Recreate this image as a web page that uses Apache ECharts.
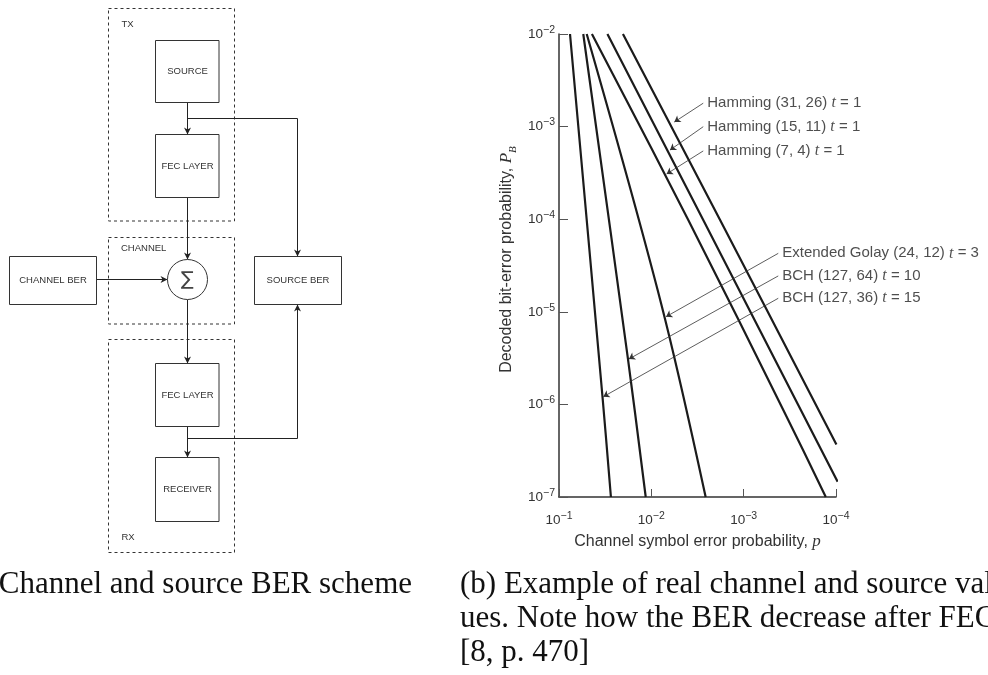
<!DOCTYPE html>
<html>
<head>
<meta charset="utf-8">
<script src="https://cdn.jsdelivr.net/npm/echarts@6/dist/echarts.min.js"></script>
<style>
  html, body { margin: 0; padding: 0; background: #fff; }
  #main { width: 988px; height: 675px; }
</style>
</head>
<body>
<div id="main"></div>
<script>
// Decoded bit-error probability P_B against channel symbol error probability p.
// Each curve is a list of [p, P_B] points.
const codeNames = ['Hamming (31, 26)', 'Hamming (15, 11)', 'Hamming (7, 4)',
                   'Extended Golay (24, 12)', 'BCH (127, 64)', 'BCH (127, 36)'];
const codeT = [1, 1, 1, 3, 10, 15];

const hamming3126 = [[0.0203, 1e-2], [1.80e-3, 9.8e-5], [9.9e-5, 3.7e-7]];
const hamming1511 = [[0.0299, 1e-2], [2.74e-3, 9.8e-5], [9.6e-5, 1.46e-7]];
const hamming74   = [[0.0440, 1e-2], [3.98e-3, 9.8e-5], [3.29e-4, 6.8e-7], [1.29e-4, 1e-7]];
const golay2412   = [[0.0501, 1e-2], [7.85e-3, 1.24e-5], [2.58e-3, 1e-7]];
const bch12764    = [[0.0546, 1e-2], [0.0179, 3.09e-6], [0.0115, 1e-7]];
const bch12736    = [[0.0760, 1e-2], [0.0338, 1.21e-6], [0.0274, 1e-7]];
const curves = [hamming3126, hamming1511, hamming74, golay2412, bch12764, bch12736];

// Leader arrows: a point beside each label and the point on its curve.
const labelAnchors = [[2.74e-3, 1.79e-3], [2.74e-3, 9.98e-4], [2.74e-3, 5.46e-4],
                      [4.22e-4, 4.28e-5], [4.22e-4, 2.44e-5], [4.22e-4, 1.40e-5]];
const arrowTips = [[5.64e-3, 1.12e-3], [6.28e-3, 5.58e-4], [6.83e-3, 3.08e-4],
                   [6.93e-3, 8.85e-6], [0.0175, 3.09e-6], [0.0331, 1.21e-6]];

// Axis ranges (decades)
const xRange = [1e-4, 1e-1];
const yRange = [1e-7, 1e-2];

const SANS = '"Liberation Sans", Arial, Helvetica, sans-serif';
const SERIF = '"Liberation Serif", "Times New Roman", serif';

function powLabel(v) {
  const n = Math.round(Math.log10(v));
  return '{b|10}{e|' + (n < 0 ? '\u2212' + (-n) : n) + '}';
}
const powRich = {
  b: { fontSize: 13.5, fontFamily: SANS, color: '#333', lineHeight: 19 },
  e: { fontSize: 10.5, fontFamily: SANS, color: '#333', lineHeight: 11, verticalAlign: 'top' }
};

// ---------- block diagram (left panel) ----------
const graphics = [];
const STROKE = '#333';
function rect(x, y, w, h, dashed) {
  graphics.push({
    type: 'rect', shape: { x: x, y: y, width: w, height: h },
    style: { fill: dashed ? null : '#fff', stroke: STROKE, lineWidth: 1, lineDash: dashed ? [3, 3] : null },
    z: dashed ? 1 : 3
  });
}
function text(x, y, s, align) {
  graphics.push({
    type: 'text', x: x, y: y, z: 5,
    style: { text: s, font: '9.5px ' + SANS, fill: '#333', align: align || 'center', verticalAlign: 'middle' }
  });
}
function wire(points) {
  graphics.push({ type: 'polyline', shape: { points: points }, style: { stroke: '#222', lineWidth: 1, fill: null }, z: 2 });
}
function head(x, y, dir) {
  // filled arrow head with its tip at (x, y)
  const L = 7, W = 3.5, N = 2;
  let pts;
  if (dir === 'down') pts = [[x, y], [x - W, y - L], [x, y - L + N], [x + W, y - L]];
  if (dir === 'up') pts = [[x, y], [x - W, y + L], [x, y + L - N], [x + W, y + L]];
  if (dir === 'right') pts = [[x, y], [x - L, y - W], [x - L + N, y], [x - L, y + W]];
  graphics.push({ type: 'polygon', shape: { points: pts }, style: { fill: '#222' }, z: 4 });
}

const cx = 187.5;
// group frames
rect(108.5, 8.5, 126, 212.5, true);
rect(108.5, 237.5, 126, 86.5, true);
rect(108.5, 339.5, 126, 213, true);
text(121.5, 24, 'TX', 'left');
text(121, 248.5, 'CHANNEL', 'left');
text(121.5, 537, 'RX', 'left');
// blocks
rect(155.5, 40.5, 63.5, 62, false);   text(cx, 71.5, 'SOURCE');
rect(155.5, 134.5, 63.5, 63, false);  text(cx, 166, 'FEC LAYER');
rect(9.5, 256.5, 87, 48, false);      text(53, 280.5, 'CHANNEL BER');
rect(254.5, 256.5, 87, 48, false);    text(298, 280.5, 'SOURCE BER');
rect(155.5, 363.5, 63.5, 63, false);  text(cx, 395, 'FEC LAYER');
rect(155.5, 457.5, 63.5, 64, false);  text(cx, 489.5, 'RECEIVER');
// adder
graphics.push({ type: 'circle', shape: { cx: cx, cy: 279.5, r: 20 }, style: { fill: '#fff', stroke: STROKE, lineWidth: 1 }, z: 3 });
graphics.push({ type: 'text', x: cx, y: 280, z: 5,
  style: { text: '\u2211', font: '19px "DejaVu Sans", ' + SANS, fill: '#444', align: 'center', verticalAlign: 'middle' } });
// connections
wire([[cx, 102.5], [cx, 134.5]]);         head(cx, 134.5, 'down');
wire([[cx, 118.5], [297.5, 118.5], [297.5, 256.5]]); head(297.5, 256.5, 'down');
wire([[cx, 197.5], [cx, 259.5]]);         head(cx, 259.5, 'down');
wire([[96.5, 279.5], [167.5, 279.5]]);    head(167.5, 279.5, 'right');
wire([[cx, 299.5], [cx, 363.5]]);         head(cx, 363.5, 'down');
wire([[cx, 426.5], [cx, 457.5]]);         head(cx, 457.5, 'down');
wire([[cx, 438.5], [297.5, 438.5], [297.5, 304.5]]); head(297.5, 304.5, 'up');

// ---------- captions ----------
const captionFont = '31px ' + SERIF;
graphics.push({ type: 'text', x: 412, y: 585, z: 5,
  style: { text: '(a) Channel and source BER scheme', font: captionFont, fill: '#111', align: 'right', verticalAlign: 'middle' } });
const captionLines = ['(b) Example of real channel and source val-',
                      'ues. Note how the BER decrease after FEC',
                      '[8, p. 470]'];
captionLines.forEach(function (s, i) {
  graphics.push({ type: 'text', x: 460, y: 585 + i * 34, z: 5,
    style: { text: s, font: captionFont, fill: '#111', align: 'left', verticalAlign: 'middle' } });
});

// ---------- chart (right panel) ----------
const lineSeries = curves.map(function (pts, i) {
  return {
    name: codeNames[i], type: 'line', data: pts, showSymbol: false, silent: true,
    smooth: 0.35,
    lineStyle: { color: '#1b1b1b', width: 2.2 }, z: 3
  };
});

const labelSeries = {
  type: 'scatter', silent: true, symbolSize: 0, z: 4,
  data: labelAnchors.map(function (p, i) { return { value: p, name: codeNames[i] }; }),
  label: {
    show: true, position: 'right', distance: 4,
    formatter: function (d) {
      return '{n|' + codeNames[d.dataIndex] + ' }{i|t}{n| = ' + codeT[d.dataIndex] + '}';
    },
    rich: {
      n: { fontSize: 15, fontFamily: SANS, color: '#222' },
      i: { fontSize: 16, fontFamily: SERIF, fontStyle: 'italic', color: '#222' }
    }
  },
  markLine: {
    silent: true, animation: false,
    symbol: ['none', 'arrow'], symbolSize: 6,
    label: { show: false },
    lineStyle: { color: '#333', width: 0.8, type: 'solid' },
    data: labelAnchors.map(function (p, i) { return [{ coord: p }, { coord: arrowTips[i] }]; })
  }
};

const option = {
  animation: false,
  backgroundColor: '#fff',
  grid: { left: 559, top: 34, width: 277, height: 463, outerBoundsMode: 'none', containLabel: false },
  xAxis: {
    type: 'log', logBase: 10, min: xRange[0], max: xRange[1], inverse: true,
    axisLine: { lineStyle: { color: '#333', width: 1.5 } },
    axisTick: { inside: true, length: 8, lineStyle: { color: '#555', width: 1 } },
    splitLine: { show: false },
    axisLabel: { margin: 14, formatter: powLabel, rich: powRich },
    name: 'Channel symbol error probability, {i|p}',
    nameLocation: 'middle', nameGap: 36,
    nameTextStyle: { fontSize: 16, fontFamily: SANS, color: '#333',
      rich: { i: { fontSize: 17, fontFamily: SERIF, fontStyle: 'italic', color: '#333' } } }
  },
  yAxis: {
    type: 'log', logBase: 10, min: yRange[0], max: yRange[1],
    axisLine: { lineStyle: { color: '#333', width: 1.5 } },
    axisTick: { inside: true, length: 9, lineStyle: { color: '#555', width: 1 } },
    splitLine: { show: false },
    axisLabel: { margin: 4, formatter: powLabel, rich: powRich },
    name: 'Decoded bit-error probability, {i|P}{s|B}',
    nameLocation: 'middle', nameGap: 40, nameRotate: 90,
    nameTextStyle: { fontSize: 16, fontFamily: SANS, color: '#333', padding: [0, 0, 0, 12],
      rich: { i: { fontSize: 17, fontFamily: SERIF, fontStyle: 'italic', color: '#333' },
              s: { fontSize: 11, fontFamily: SERIF, fontStyle: 'italic', color: '#333', verticalAlign: 'bottom', lineHeight: 24 } } }
  },
  series: lineSeries.concat([labelSeries]),
  graphic: graphics
};

const chart = echarts.init(document.getElementById('main'), null, { renderer: 'canvas' });
chart.setOption(option);
</script>
</body>
</html>
